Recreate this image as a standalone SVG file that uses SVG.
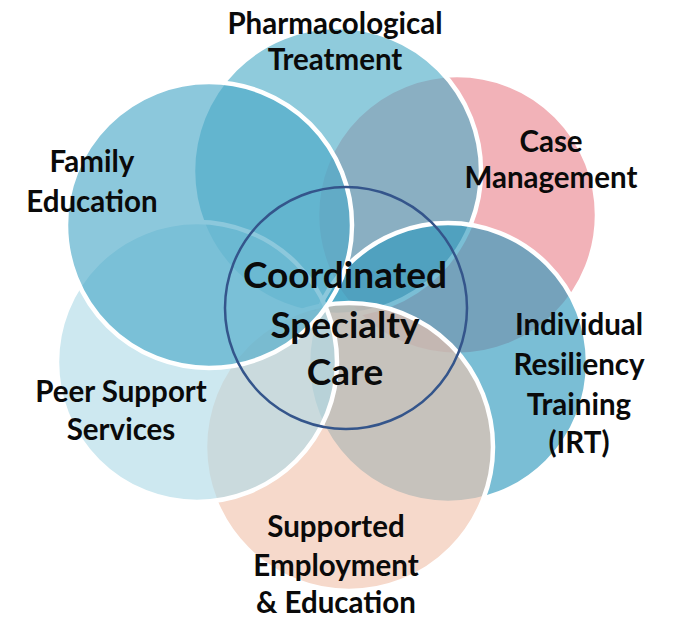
<svg xmlns="http://www.w3.org/2000/svg" width="674" height="620" viewBox="0 0 674 620">
<style>
.c{stroke:#fff;stroke-width:4.5;fill-opacity:0.64}
.t{font-family:Lato,"Open Sans","Liberation Sans",sans-serif;font-weight:700;font-size:29.5px;fill:#0a0a0a;text-anchor:middle}
.ct{font-size:37px}
</style>
<rect width="674" height="620" fill="#fff"/>
<g id="circles">
<g id="node-case"><circle class="c" cx="457" cy="215" r="140" fill="#EB8790"/></g>
<g id="node-pharma"><circle class="c" cx="337" cy="171" r="144" fill="#50AEC8"/></g>
<g id="node-irt"><circle class="c" cx="448" cy="363" r="140" fill="#2F99BD"/></g>
<g id="node-employment"><circle class="c" cx="349" cy="447" r="144" fill="#F1C4AE"/></g>
<g id="node-peer"><circle class="c" cx="197" cy="362" r="140" fill="#B1DBE8"/></g>
<g id="node-family"><circle class="c" cx="209" cy="225" r="143" fill="#4BA9C8"/></g>
</g>
<g id="node-csc"><circle cx="346" cy="308" r="121" fill="none" stroke="#34558B" stroke-width="2.5"/></g>
<g id="labels" class="t">
<g id="label-pharma"><text x="335" y="34">Pharmacological</text><text x="335" y="70">Treatment</text></g>
<g id="label-case"><text x="551" y="152">Case</text><text x="551" y="188">Management</text></g>
<g id="label-family"><text x="92" y="172">Family</text><text x="92" y="212">Education</text></g>
<g id="label-peer"><text x="121" y="402">Peer Support</text><text x="121" y="440">Services</text></g>
<g id="label-irt"><text x="579" y="335">Individual</text><text x="579" y="375">Resiliency</text><text x="579" y="415">Training</text><text x="579" y="453">(IRT)</text></g>
<g id="label-employment"><text x="336" y="537">Supported</text><text x="336" y="576">Employment</text><text x="336" y="613">&amp; Education</text></g>
<g id="label-csc" class="ct"><text x="345" y="288">Coordinated</text><text x="345" y="338">Specialty</text><text x="345" y="385">Care</text></g>
</g>
</svg>
